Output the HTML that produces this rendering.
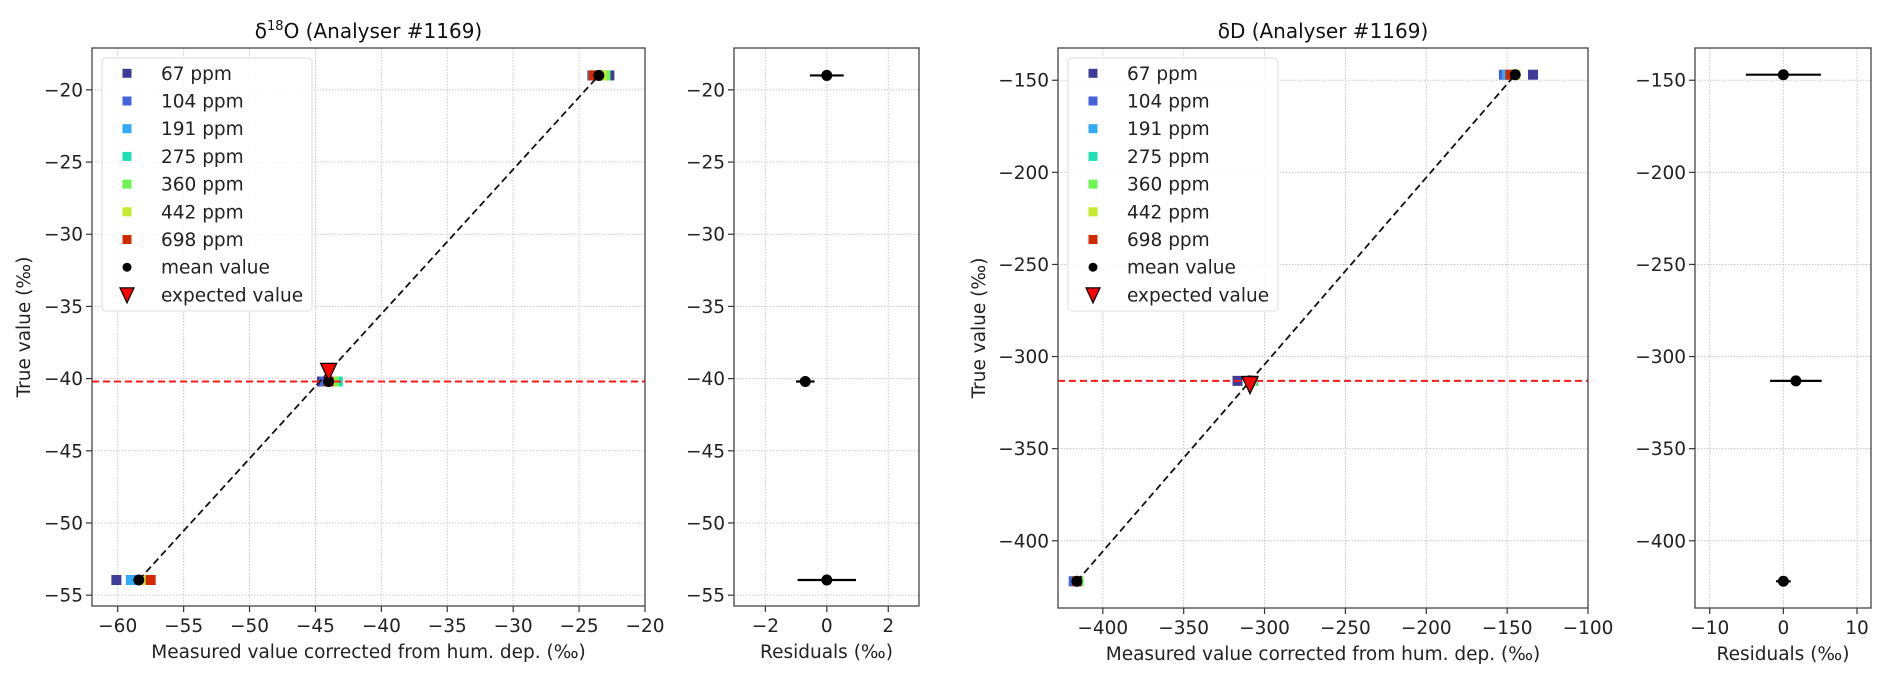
<!DOCTYPE html>
<html><head><meta charset="utf-8"><style>
html,body{margin:0;padding:0;background:#fff;}
svg{display:block;font-family:"DejaVu Sans","Liberation Sans",sans-serif;}
</style></head><body>
<svg id="fig" width="1892" height="678" viewBox="0 0 1892 678" xmlns="http://www.w3.org/2000/svg"></svg>
<script>
// ---- data ----
const ppmLabels = ["67 ppm","104 ppm","191 ppm","275 ppm","360 ppm","442 ppm","698 ppm"];
const ppmColors = ["#3f3c99","#4563d8","#33aaf5","#1fe0b5","#6cf552","#c6ea2e","#d22a00"];
// d18O: x per ppm for each standard, true values
const o18True = [-19.0, -40.2, -53.95];
const o18X = [
  [-22.7, -24.0, -23.8, -23.2, -23.0, -23.3, -23.9],
  [-44.5, -44.3, -43.8, -43.3, -43.6, -43.9, -44.0],
  [-60.1, -58.9, -59.0, -58.2, -58.0, -57.9, -57.5]
];
const o18Mean = [-23.5, -44.0, -58.4];
const o18Expected = [-44.0, -39.5];
const o18RefLine = -40.2;
const o18Res = [0.0, -0.7, 0.0];
const o18ResErr = [0.55, 0.3, 0.95];
// dD
const dDTrue = [-147, -313.2, -422];
const dDX = [
  [-134, -152, -150, -146, -145, -145, -148],
  [-316.7, -308, -307, -307, -308, -308, -309],
  [-417, -418, -416, -415, -415, -416, -416]
];
const dDMean = [-145, -309, -416];
const dDExpected = [-309, -315.2];
const dDRefLine = -313.2;
const dDRes = [0.0, 1.7, 0.0];
const dDResErr = [5.1, 3.5, 1.0];
const o18XTicks = [-60,-55,-50,-45,-40,-35,-30,-25,-20];
const o18YTicks = [-20,-25,-30,-35,-40,-45,-50,-55];
const o18RTicks = [-2,0,2];
const dDXTicks = [-400,-350,-300,-250,-200,-150,-100];
const dDYTicks = [-150,-200,-250,-300,-350,-400];
const dDRTicks = [-10,0,10];

const NS="http://www.w3.org/2000/svg";
const svg=document.getElementById('fig');
function el(tag,attrs,parent,text){const e=document.createElementNS(NS,tag);for(const k in attrs)e.setAttribute(k,attrs[k]);if(text!==undefined)e.textContent=text;(parent||svg).appendChild(e);return e;}
function lin(d0,d1,r0,r1){return v=>r0+(v-d0)*(r1-r0)/(d1-d0);}
function fmt(v){return v<0?'\u2212'+Math.abs(v):String(v);}

function axesFrame(g,L,T,R,B,xs,ys,xt,yt,ytick){
  xt.forEach(v=>{const x=xs(v);
    const gl=el('line',{x1:x,x2:x,y1:T,y2:B,stroke:'#c8c8c8','stroke-width':1,'stroke-dasharray':'1.5,1.5'},g);
    
    el('line',{x1:x,x2:x,y1:B,y2:B+6,stroke:'#333','stroke-width':1.2},g);
    const t=el('text',{x:x,y:B+26,'text-anchor':'middle','font-size':18.5,fill:'#222'},g,fmt(v));
    });
  yt.forEach(v=>{const y=ys(v);
    const gl=el('line',{x1:L,x2:R,y1:y,y2:y,stroke:'#c8c8c8','stroke-width':1,'stroke-dasharray':'1.5,1.5'},g);
    
    el('line',{x1:L-6,x2:L,y1:y,y2:y,stroke:'#333','stroke-width':1.2},g);
    const t=el('text',{x:L-9,y:y+6.5,'text-anchor':'end','font-size':18.5,fill:'#222'},g,fmt(v));
    });
}
function frame(g,L,T,R,B){const r=el('rect',{x:L,y:T,width:R-L,height:B-T,fill:'none',stroke:'#444','stroke-width':1.3},g);
  }

function mainPanel(cfg){
  const g=el('g',{});
  
  
  const {L,T,R,B}=cfg;
  const xs=lin(cfg.xlim[0],cfg.xlim[1],L,R), ys=lin(cfg.ylim[0],cfg.ylim[1],B,T);
  axesFrame(g,L,T,R,B,xs,ys,cfg.xt,cfg.yt);
  const clip=el('clipPath',{id:cfg.name+'-clip'},g);el('rect',{x:L,y:T,width:R-L,height:B-T},clip);
  const pg=el('g',{'clip-path':'url(#'+cfg.name+'-clip)'},g);
  // squares
  cfg.trueV.forEach((tv,i)=>{
    ppmLabels.forEach((lab,j)=>{
      const s=el('rect',{x:xs(cfg.X[i][j])-5,y:ys(tv)-5,width:10,height:10,fill:ppmColors[j]},pg);
      
      
    });
  });
  // fit line
  const ln=el('line',{x1:xs(cfg.mean[2]),y1:ys(cfg.trueV[2]),x2:xs(cfg.mean[0]),y2:ys(cfg.trueV[0]),stroke:'#111','stroke-width':1.8,'stroke-dasharray':'7,4'},pg);
  
  // ref line
  const rl=el('line',{x1:L,x2:R,y1:ys(cfg.ref),y2:ys(cfg.ref),stroke:'#ff1a1a','stroke-width':2,'stroke-dasharray':'7,4'},pg);
  
  cfg.mean.forEach((m,i)=>{const c=el('circle',{cx:xs(m),cy:ys(cfg.trueV[i]),r:5.5,fill:'#000'},pg);
    });
  const ex=xs(cfg.exp[0]), ey=ys(cfg.exp[1]);
  const tri=el('polygon',{points:`${ex-8},${ey-8} ${ex+8},${ey-8} ${ex},${ey+9}`,fill:'#ff0000',stroke:'#000','stroke-width':1.3},pg);
  
  frame(g,L,T,R,B);
  // legend
  const lg=el('g',{},g);
  
  el('rect',{x:L+10,y:58,width:210,height:253,rx:4,fill:'#fff','fill-opacity':0.85,stroke:'#ddd'},lg);
  const labels=ppmLabels.concat(['mean value','expected value']);
  labels.forEach((lab,k)=>{const y=73.3+k*27.7, mx=L+35;
    if(k<7){el('rect',{x:mx-4.5,y:y-4.5,width:9,height:9,fill:ppmColors[k]},lg);}
    else if(k==7){el('circle',{cx:mx,cy:y,r:4.5,fill:'#000'},lg);}
    else{el('polygon',{points:`${mx-7},${y-7} ${mx+7},${y-7} ${mx},${y+8}`,fill:'#ff0000',stroke:'#000','stroke-width':1.2},lg);}
    const t=el('text',{x:L+69,y:y+6.5,'font-size':18.5,fill:'#222'},lg,lab);
    
  });
  // labels
  const xl=el('text',{x:(L+R)/2,y:B+52,'text-anchor':'middle','font-size':18.5,fill:'#222'},g,'Measured value corrected from hum. dep. (‰)');
  
  const yl=el('text',{x:0,y:0,'text-anchor':'middle','font-size':18.5,fill:'#222',transform:`translate(${cfg.ylx},${(T+B)/2}) rotate(-90)`},g,'True value (‰)');
  
  const tt=el('text',{x:(L+R)/2,y:38,'text-anchor':'middle','font-size':20,fill:'#111'},g);
  
  tt.innerHTML=cfg.title;
  return ys;
}
function resPanel(cfg){
  const g=el('g',{});
  
  
  const {L,T,R,B}=cfg;
  const xs=lin(cfg.xlim[0],cfg.xlim[1],L,R), ys=lin(cfg.ylim[0],cfg.ylim[1],B,T);
  axesFrame(g,L,T,R,B,xs,ys,cfg.xt,cfg.yt);
  cfg.res.forEach((r,i)=>{const y=ys(cfg.trueV[i]);
    const e=el('line',{x1:xs(r-cfg.err[i]),x2:xs(r+cfg.err[i]),y1:y,y2:y,stroke:'#000','stroke-width':2.2},g);
    
    const c=el('circle',{cx:xs(r),cy:y,r:5.5,fill:'#000'},g);
    });
  frame(g,L,T,R,B);
  const xl=el('text',{x:(L+R)/2,y:B+52,'text-anchor':'middle','font-size':18.5,fill:'#222'},g,'Residuals (‰)');
  
}
mainPanel({name:'d18o-main-panel',L:92,T:48,R:645,B:606,xlim:[-61.95,-20],ylim:[-55.75,-17.1],xt:o18XTicks,yt:o18YTicks,
  trueV:o18True,X:o18X,mean:o18Mean,exp:o18Expected,ref:o18RefLine,ylx:30,
  title:'δ<tspan dy="-8" font-size="13">18</tspan><tspan dy="8">O (Analyser #1169)</tspan>'});
resPanel({name:'d18o-residual-panel',L:734,T:48,R:919,B:606,xlim:[-3.02,3.0],ylim:[-55.75,-17.1],xt:o18RTicks,yt:o18YTicks,
  res:o18Res,err:o18ResErr,trueV:o18True});
mainPanel({name:'dd-main-panel',L:1058,T:48,R:1588,B:608,xlim:[-427.7,-100],ylim:[-436.5,-132.5],xt:dDXTicks,yt:dDYTicks,
  trueV:dDTrue,X:dDX,mean:dDMean,exp:dDExpected,ref:dDRefLine,ylx:985,
  title:'δD (Analyser #1169)'});
resPanel({name:'dd-residual-panel',L:1695,T:48,R:1871,B:608,xlim:[-12,11.9],ylim:[-436.5,-132.5],xt:dDRTicks,yt:dDYTicks,
  res:dDRes,err:dDResErr,trueV:dDTrue});
</script>
</body></html>
